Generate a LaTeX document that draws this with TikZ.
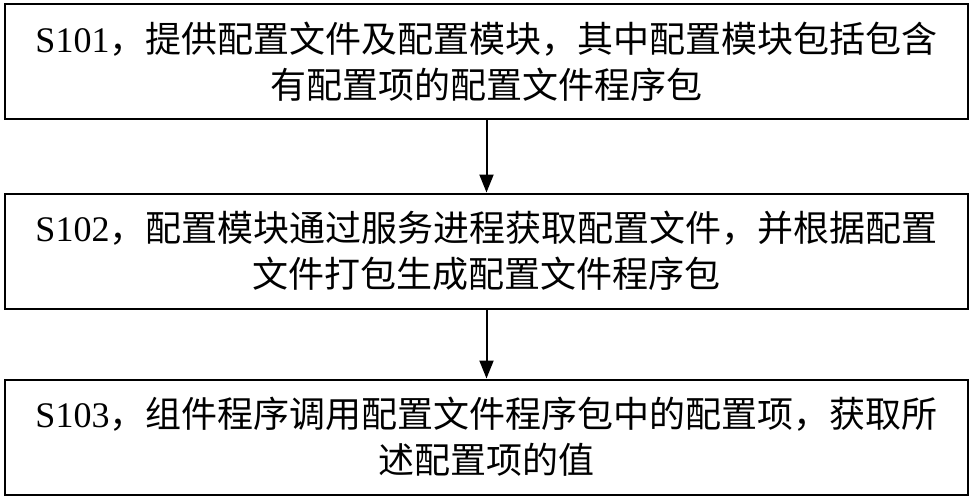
\documentclass[tikz,border=0pt]{standalone}
\usepackage{fontspec}
\setmainfont{Liberation Serif}
\newfontfamily\cjk{Noto Sans CJK SC}
\usetikzlibrary{arrows.meta}
\begin{document}
\begin{tikzpicture}[x=1pt,y=-1pt,
  stepbox/.style={draw,line width=2pt,minimum width=963pt,minimum height=115pt,align=center,font=\fontsize{36}{46}\selectfont,inner sep=0pt},
  arr/.style={-{Triangle[length=18pt,width=14pt]},line width=2pt}]
\useasboundingbox (0,0) rectangle (974,500);
\node[stepbox] (a) at (486.5,62) {S101{\cjk，提供配置文件及配置模块，其中配置模块包括包含}\\{\cjk 有配置项的配置文件程序包}};
\node[stepbox] (b) at (486.5,251) {S102{\cjk，配置模块通过服务进程获取配置文件，并根据配置}\\{\cjk 文件打包生成配置文件程序包}};
\node[stepbox] (c) at (486.5,437) {S103{\cjk，组件程序调用配置文件程序包中的配置项，获取所}\\{\cjk 述配置项的值}};
\draw[arr] (a) -- (b);
\draw[arr] (b) -- (c);
\end{tikzpicture}
\end{document}
